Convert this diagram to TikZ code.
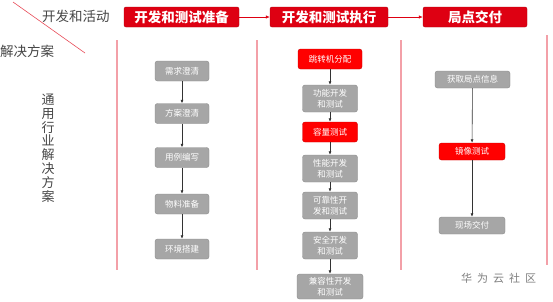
\documentclass[tikz,border=0pt]{standalone}
\usepackage{fontspec}
\newfontfamily\cjk{Noto Sans CJK SC}
\usetikzlibrary{arrows.meta}
\definecolor{hdrred}{RGB}{222,0,18}
\definecolor{boxred}{RGB}{255,0,0}
\definecolor{boxgray}{RGB}{166,166,166}
\definecolor{grayedge}{RGB}{140,140,140}
\definecolor{pinkline}{RGB}{243,160,168}
\definecolor{txtgray}{RGB}{70,70,70}
\tikzset{
  hdr/.style={draw=hdrred!80!black, fill=hdrred, rounded corners=2pt, minimum height=20pt,
    text=white, font=\cjk\bfseries\fontsize{13.5}{14}\selectfont, inner sep=0pt},
  gbox/.style={draw=grayedge, fill=boxgray, rounded corners=2.5pt, text=white,
    font=\cjk\fontsize{8.5}{11}\selectfont, align=center, inner sep=0pt},
  rbox/.style={draw=boxred!80!black, fill=boxred, rounded corners=2.5pt, text=white,
    font=\cjk\fontsize{8.5}{11}\selectfont, align=center, inner sep=0pt},
  flow/.style={draw=black!80, line width=0.6pt, -{Latex[length=3.5pt,width=3pt]}},
  hflow/.style={draw=hdrred, line width=0.6pt, -{Latex[length=4pt,width=3.5pt]}},
  sep/.style={draw=pinkline, line width=1.5pt},
  lbl/.style={text=txtgray, font=\cjk\fontsize{13.5}{14}\selectfont, inner sep=0pt}
}
\begin{document}
\begin{tikzpicture}[x=1pt,y=-1pt]
\useasboundingbox[fill=white] (0,0) rectangle (553,301);
% separators
\coordinate (s1t) at (117,40); \coordinate (s1b) at (117,270);
\coordinate (s2t) at (257,40); \coordinate (s2b) at (257,270);
\coordinate (s3t) at (401,40); \coordinate (s3b) at (401,270);
\coordinate (s4t) at (547,35); \coordinate (s4b) at (547,265);
\draw[sep] (s1t) -- (s1b);
\draw[sep] (s2t) -- (s2b);
\draw[sep] (s3t) -- (s3b);
\draw[sep] (s4t) -- (s4b);
% diagonal
\coordinate (d1) at (13,2); \coordinate (d2) at (85,53);
\draw[draw=hdrred!70, line width=0.6pt] (d1) -- (d2);
% labels
\node[lbl, anchor=west] (act) at (42,16) {开发和活动};
\node[lbl, anchor=west] (sol) at (0,51) {解决方案};
\node[lbl, align=center, font=\cjk\fontsize{13}{13.8}\selectfont] (gen) at (48,148)
  {通\\用\\行\\业\\解\\决\\方\\案};
% headers
\node[hdr, minimum width=115pt] (h1) at (181.5,17) {开发和测试准备};
\node[hdr, minimum width=118pt] (h2) at (329,17) {开发和测试执行};
\node[hdr, minimum width=104pt] (h3) at (475,17) {局点交付};
\draw[hflow] (h1) -- (h2);
\draw[hflow] (h2) -- (h3);
% column 1
\begin{scope}[every node/.append style={gbox, minimum width=54pt, minimum height=20pt}]
\node (a1) at (182,71) {需求澄清};
\node (a2) at (182,113.5) {方案澄清};
\node (a3) at (182,157.5) {用例编写};
\node (a4) at (182,204) {物料准备};
\node (a5) at (182,249) {环境搭建};
\end{scope}
\draw[flow] (a1) -- (a2);
\draw[flow] (a2) -- (a3);
\draw[flow] (a3) -- (a4);
\draw[flow] (a4) -- (a5);
% column 2
\node[rbox, minimum width=64pt, minimum height=20pt] (b1) at (330,59) {跳转机分配};
\node[gbox, minimum width=55pt, minimum height=27pt] (b2) at (330,98.5) {功能开发\\和测试};
\node[rbox, minimum width=55pt, minimum height=20pt] (b3) at (330,132) {容量测试};
\node[gbox, minimum width=55pt, minimum height=27pt] (b4) at (330,168.5) {性能开发\\和测试};
\node[gbox, minimum width=55pt, minimum height=27pt] (b5) at (330,205.5) {可靠性开\\发和测试};
\node[gbox, minimum width=55pt, minimum height=27pt] (b6) at (330,245.5) {安全开发\\和测试};
\node[gbox, minimum width=66pt, minimum height=25pt] (b7) at (330,286.5) {兼容性开发\\和测试};
\draw[flow] (b1) -- (b2);
\draw[flow] (b2) -- (b3);
\draw[flow] (b3) -- (b4);
\draw[flow] (b4) -- (b5);
\draw[flow] (b5) -- (b6);
\draw[flow] (b6) -- (b7);
% column 3
\node[gbox, minimum width=75pt, minimum height=17pt] (c1) at (472.5,79.5) {获取局点信息};
\node[rbox, minimum width=66pt, minimum height=17pt] (c2) at (472,151.5) {镜像测试};
\node[gbox, minimum width=66pt, minimum height=17pt] (c3) at (472,225.5) {现场交付};
\draw[flow] (c1) -- (c2);
\draw[flow] (c2) -- (c3);
% watermark
\node[text=black!50, font=\cjk\fontsize{11}{12}\selectfont, inner sep=0pt] (wm) at (498.5,278) {华\hspace{5pt}为\hspace{5pt}云\hspace{5pt}社\hspace{5pt}区};
\end{tikzpicture}
\end{document}
